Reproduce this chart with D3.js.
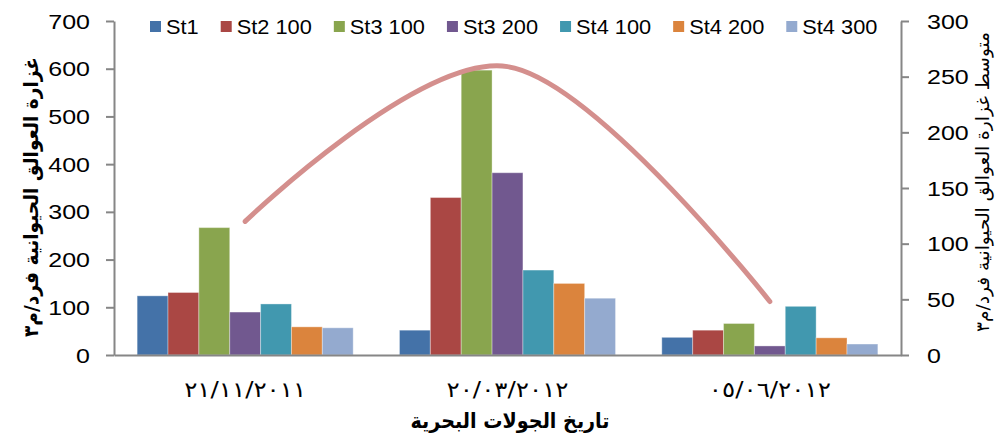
<!DOCTYPE html>
<html>
<head>
<meta charset="utf-8">
<script src="https://cdn.jsdelivr.net/npm/d3@7"></script>
<style>
  html, body { margin: 0; padding: 0; background: #fff; }
  svg { display: block; }
  .lat { font-family: "Liberation Sans", Arial, sans-serif; font-size: 20px; fill: #000; }
  .ar { font-family: "DejaVu Sans", "Noto Sans", sans-serif; fill: #000; }
</style>
</head>
<body>
<svg id="chart" width="1001" height="444"></svg>
<script>
// Sampling dates (cruises) and stations
const categories = ["٢١/١١/٢٠١١", "٢٠/٠٣/٢٠١٢", "٠٥/٠٦/٢٠١٢"];
const seriesNames = ["St1", "St2 100", "St3 100", "St3 200", "St4 100", "St4 200", "St4 300"];

// Zooplankton density (ind/m3) per station, one value per cruise
const st1    = [124, 52, 37];
const st2100 = [131, 330, 52];
const st3100 = [267, 597, 66];
const st3200 = [90, 382, 19];
const st4100 = [107, 178, 102];
const st4200 = [59, 150, 36];
const st4300 = [57, 119, 23];

// Mean density per cruise (right axis)
const meanDensity = [120, 259, 48];

const leftTicks = [0, 100, 200, 300, 400, 500, 600, 700];
const rightTicks = [0, 50, 100, 150, 200, 250, 300];

const seriesColors = ["#4472A8", "#AA4744", "#89A54E", "#71588F", "#4198AF", "#DB843D", "#94AACF"];

const seriesValues = [st1, st2100, st3100, st3200, st4100, st4200, st4300];

const svg = d3.select("#chart");
const plot = { left: 114, right: 901, top: 21, bottom: 355 };
const sx = 1.25;       // horizontal stretch of the tick labels
const sxLegend = 1.09; // horizontal stretch of the legend labels

const x = d3.scaleBand().domain(categories).range([plot.left, plot.right]).padding(0);
const xs = d3.scaleBand().domain(seriesNames).range([0, x.bandwidth()]).paddingInner(0).paddingOuter(0.75);
const yL = d3.scaleLinear().domain([0, 700]).range([plot.bottom, plot.top]);
const yR = d3.scaleLinear().domain([0, 300]).range([plot.bottom, plot.top]);
const color = d3.scaleOrdinal().domain(seriesNames).range(seriesColors);

// Bars
const rows = [];
categories.forEach((c, i) => {
  seriesNames.forEach((s, j) => rows.push({ cat: c, name: s, value: seriesValues[j][i] }));
});
svg.append("g").selectAll("rect").data(rows).join("rect")
  .attr("x", d => x(d.cat) + xs(d.name))
  .attr("y", d => yL(d.value))
  .attr("width", xs.bandwidth())
  .attr("height", d => yL(0) - yL(d.value))
  .attr("fill", d => color(d.name))
  .attr("stroke", "rgba(255,255,255,0.35)")
  .attr("stroke-width", 1);

// Axes
const axisColor = "#868686";
function styleAxis(g) {
  g.select(".domain").attr("stroke", axisColor).attr("stroke-width", 2);
  g.selectAll(".tick line").attr("stroke", axisColor).attr("stroke-width", 2);
}

const gL = svg.append("g").attr("transform", `translate(${plot.left},0)`)
  .call(d3.axisLeft(yL).tickValues(leftTicks).tickSize(8).tickSizeOuter(0));
styleAxis(gL);
gL.selectAll(".tick text")
  .attr("class", "lat")
  .attr("x", null).attr("dy", "0.35em")
  .attr("text-anchor", "end")
  .attr("font-size", null).attr("font-family", null)
  .attr("transform", `translate(-24,0) scale(${sx},1)`);

const gR = svg.append("g").attr("transform", `translate(${plot.right},0)`)
  .call(d3.axisRight(yR).tickValues(rightTicks).tickSize(8).tickSizeOuter(0));
styleAxis(gR);
gR.selectAll(".tick text")
  .attr("class", "lat")
  .attr("x", null).attr("dy", "0.35em")
  .attr("text-anchor", "start")
  .attr("font-size", null).attr("font-family", null)
  .attr("transform", `translate(26,0) scale(${sx},1)`);

// Category axis baseline
const gX = svg.append("g").attr("transform", `translate(0,${plot.bottom})`)
  .call(d3.axisBottom(x).tickSize(0).tickSizeOuter(0));
gX.select(".domain").attr("stroke", axisColor).attr("stroke-width", 2);
gX.selectAll(".tick text")
  .attr("class", "ar")
  .attr("font-size", null).attr("font-family", null)
  .style("font-size", "21px")
  .attr("y", 42).attr("dy", null)
  .attr("textLength", 122).attr("lengthAdjust", "spacingAndGlyphs");

// Mean line (smoothed)
const line = d3.line()
  .x((d, i) => x(categories[i]) + x.bandwidth() / 2)
  .y(d => yR(d))
  .curve(d3.curveCardinal.tension(0));
svg.append("path")
  .datum(meanDensity)
  .attr("d", line)
  .attr("fill", "none")
  .attr("stroke", "#D48F8D")
  .attr("stroke-width", 5)
  .attr("stroke-linecap", "round");

// Legend
const legend = svg.append("g").attr("transform", "translate(150,27)");
let lx = 0;
seriesNames.forEach((s, i) => {
  const item = legend.append("g").attr("transform", `translate(${lx},0)`);
  item.append("rect").attr("x", 0).attr("y", -6).attr("width", 11).attr("height", 11).attr("fill", seriesColors[i]);
  const t = item.append("text").attr("class", "lat")
    .attr("transform", `translate(16,0) scale(${sxLegend},1)`)
    .attr("dy", "0.35em").text(s);
  const w = t.node().getComputedTextLength() * sxLegend;
  lx += 16 + w + 22;
});

// Axis titles
svg.append("text").attr("class", "ar")
  .attr("transform", "translate(38,197) rotate(-90)")
  .attr("text-anchor", "middle")
  .style("font-size", "20px").style("font-weight", "bold")
  .attr("textLength", 280).attr("lengthAdjust", "spacingAndGlyphs")
  .text("غزارة العوالق الحيوانية فرد/م٣");

svg.append("text").attr("class", "ar")
  .attr("transform", "translate(989,182) rotate(-90)")
  .attr("text-anchor", "middle")
  .style("font-size", "18px")
  .attr("textLength", 300).attr("lengthAdjust", "spacingAndGlyphs")
  .text("متوسط غزارة العوالق الحيوانية فرد/م٣");

svg.append("text").attr("class", "ar")
  .attr("x", 510).attr("y", 428)
  .attr("text-anchor", "middle")
  .style("font-size", "21px").style("font-weight", "bold")
  .attr("textLength", 199).attr("lengthAdjust", "spacingAndGlyphs")
  .text("تاريخ الجولات البحرية");
</script>
</body>
</html>
